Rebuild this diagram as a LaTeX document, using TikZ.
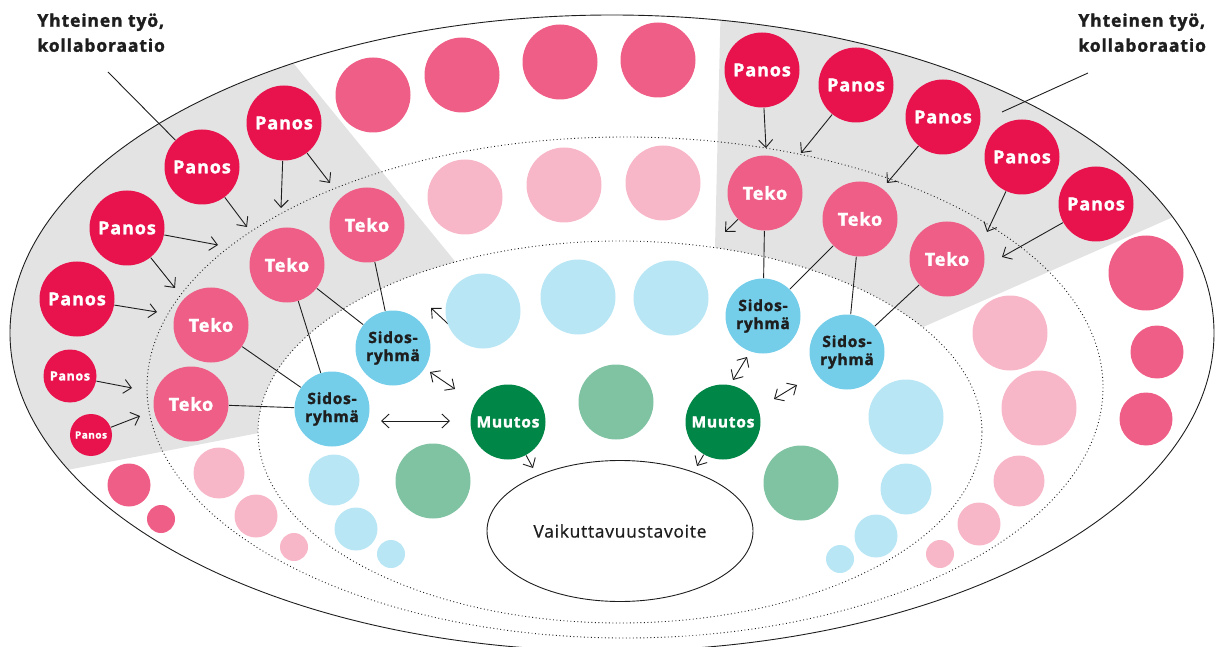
\documentclass[tikz,border=0pt]{standalone}
\usepackage{fontspec}
\setmainfont{Open Sans}
\newfontfamily\lblfont[LetterSpace=5.0, BoldFeatures={FakeBold=1.6}]{Open Sans}
\newfontfamily\goalfont[LetterSpace=4.0, FakeBold=0.7]{Open Sans}
\usetikzlibrary{arrows.meta,shapes.geometric}

\definecolor{cPanos}{HTML}{E8124C}
\definecolor{cTeko}{HTML}{EF5E86}
\definecolor{cRose}{HTML}{F8B7C8}
\definecolor{cSido}{HTML}{74CDE9}
\definecolor{cSky}{HTML}{B8E6F5}
\definecolor{cMuutos}{HTML}{008646}
\definecolor{cMint}{HTML}{80C3A3}
\definecolor{cBand}{HTML}{E3E3E3}
\definecolor{cInk}{HTML}{1E1E1E}

\begin{document}
\begin{tikzpicture}[
    x=1pt, y=-1pt,
    >={Straight Barb[length=7.5pt,width=14pt]},
    line width=0.9pt,
    ball/.style={circle, inner sep=0pt, minimum size=75pt},
    panos/.style={ball, fill=cPanos, text=white,
      font=\lblfont\bfseries\fontsize{18}{20}\selectfont},
    teko/.style={ball, fill=cTeko, text=white,
      font=\lblfont\bfseries\fontsize{18}{20}\selectfont},
    sido/.style={ball, fill=cSido, text=cInk, align=center,
      font=\lblfont\bfseries\fontsize{15.5}{18}\selectfont},
    muutos/.style={ball, fill=cMuutos, text=white,
      font=\lblfont\bfseries\fontsize{15.5}{18}\selectfont},
    deco/.style={circle, inner sep=0pt, minimum size=#1},
    link/.style={draw=cInk},
    arr/.style={->, draw=cInk},
    dbl/.style={<->, draw=cInk},
    ring/.style={draw=cInk, line width=0.9pt, dash pattern=on 0.9pt off 2.6pt},
    note/.style={align=left, text=cInk, inner sep=0pt, anchor=north west,
      font=\lblfont\bfseries\fontsize{17.5}{25}\selectfont},
  ]
  \useasboundingbox (0,0) rectangle (1216,647);

  % Grey sectors (collaboration)
  \begin{scope}
    \clip (0,483) -- (300,425) -- (480,292) -- (250,10) -- (0,0) -- cycle;
    \fill[cBand, even odd rule] (612,333) ellipse [x radius=602, y radius=318]
      (620,432) ellipse [x radius=362, y radius=191];
  \end{scope}
  \begin{scope}
    \clip (721,-5) -- (714,290) -- (880,346) -- (1230,192) -- (1230,-5) -- cycle;
    \fill[cBand, even odd rule] (612,333) ellipse [x radius=602, y radius=318]
      (620,432) ellipse [x radius=362, y radius=191];
  \end{scope}

  % Rings
  \draw[cInk] (612,333) ellipse [x radius=602, y radius=318];
  \draw[ring] (625,387.5) ellipse [x radius=478, y radius=250.5];
  \draw[ring] (620,432) ellipse [x radius=362, y radius=191];

  % Arrow partly hidden under a circle
  \coordinate (dC1) at (431,308);
  \coordinate (dC2) at (460,335);
  \draw[arr] (dC2) -- (dC1);

  % Background circles
  \foreach \x/\y/\d [count=\i] in {373/95/75, 462/75/75, 560/62/75, 658/60/75,
      1146/273/75, 1157/352/53, 1146/419/53, 129/485/43, 161/519/28}
    \node[deco=\d pt, fill=cTeko] (outer\i) at (\x,\y) {};
  \foreach \x/\y/\d [count=\i] in {465/197/75, 564/185/75, 663/183/75,
      1010/333/75, 1039/408/75, 1019/481/51, 979/524/43, 940/554/28,
      219/473/51, 256/516/43, 294/547/28}
    \node[deco=\d pt, fill=cRose] (mid\i) at (\x,\y) {};
  \foreach \x/\y/\d [count=\i] in {483/311/75, 578/297/75, 671/298/75,
      906/417/75, 906/489/51, 876/536/43, 840/559/28,
      334/480/51, 356/529/43, 391/554/28}
    \node[deco=\d pt, fill=cSky] (inner\i) at (\x,\y) {};
  \foreach \x/\y [count=\i] in {616/402, 433/481, 801/483}
    \node[deco=75pt, fill=cMint] (mint\i) at (\x,\y) {};

  % Left sector
  \node[panos] (pL1) at (202,167) {Panos};
  \node[panos] (pL2) at (284,123) {Panos};
  \node[panos] (pL3) at (127,228) {Panos};
  \node[panos] (pL4) at (77,299) {Panos};
  \node[panos, minimum size=53pt, font=\lblfont\bfseries\fontsize{12.5}{14}\selectfont]
    (pL5) at (70,376) {Panos};
  \node[panos, minimum size=42pt, font=\lblfont\bfseries\fontsize{10}{12}\selectfont]
    (pL6) at (91,435) {Panos};
  \node[teko] (tL1) at (367,225) {Teko};
  \node[teko] (tL2) at (287,265) {Teko};
  \node[teko] (tL3) at (211,325) {Teko};
  \node[teko] (tL4) at (191,404) {Teko};
  \node[sido] (sL1) at (393,348) {Sidos-\\ryhmä};
  \node[sido] (sL2) at (332,409) {Sidos-\\ryhmä};

  % Right sector
  \node[panos] (pR1) at (762,70) {Panos};
  \node[panos] (pR2) at (856,85) {Panos};
  \node[panos] (pR3) at (943,117) {Panos};
  \node[panos] (pR4) at (1022,157) {Panos};
  \node[panos] (pR5) at (1096,204) {Panos};
  \node[teko] (tR1) at (765,193) {Teko};
  \node[teko] (tR2) at (860,219) {Teko};
  \node[teko] (tR3) at (947,259) {Teko};
  \node[sido] (sR1) at (763,316) {Sidos-\\ryhmä};
  \node[sido] (sR2) at (847,352) {Sidos-\\ryhmä};

  % Changes and goal
  \node[muutos] (mL) at (508,422) {Muutos};
  \node[muutos] (mR) at (723,422) {Muutos};
  \node[ellipse, draw=cInk, minimum width=266pt, minimum height=141pt,
    font=\goalfont\fontsize{17.5}{20}\selectfont, text=cInk] (goal) at (620,531)
    {Vaikuttavuustavoite};

  % Arrow tips
  \foreach \n/\x/\y in {aL1/247/227, aL2/281/208, aL3/330/183, aL4/218/245,
      aL5/175/288, aL6/157/312, aL7/132/388, aL8/140/416,
      aR1/766/148, aR2/801/153, aR3/887/183, aR4/987/232, aR5/1002/257,
      aR6/725/232, aM1/533/468, aM2/697/466}
    \coordinate (\n) at (\x,\y);
  \foreach \s/\t in {pL1/aL1, pL2/aL2, pL2/aL3, pL3/aL4, pL3/aL5, pL4/aL6,
      pL5/aL7, pL6/aL8, pR1/aR1, pR2/aR2, pR3/aR3, pR4/aR4, pR5/aR5,
      tR1/aR6, mL/aM1, mR/aM2}
    \draw[arr] (\s) -- (\t);

  % Teko to Sidosryhma
  \foreach \s/\t in {tL1/sL1, tL2/sL1, tL2/sL2, tL3/sL2, tL4/sL2,
      tR1/sR1, tR2/sR1, tR2/sR2, tR3/sR2}
    \draw[link] (\s) -- (\t);

  % Two-way arrows
  \foreach \n/\x/\y in {dA1/381/421, dA2/450/421, dB1/430/372, dB2/455/389,
      dD1/747/357, dD2/733/380, dE1/797/385, dE2/774/399}
    \coordinate (\n) at (\x,\y);
  \draw[dbl] (dA1) -- (dA2);
  \draw[dbl] (dB1) -- (dB2);
  \draw[dbl] (dD1) -- (dD2);
  \draw[dbl] (dE1) -- (dE2);

  % Labels
  \node[note] (noteL) at (37,13) {Yhteinen työ,\\kollaboraatio};
  \node[note] (noteR) at (1078,13) {Yhteinen työ,\\kollaboraatio};
  \coordinate (nL) at (108,72);
  \coordinate (nR1) at (1088,73);
  \coordinate (nR2) at (1002,112);
  \draw[link] (nL) -- (pL1);
  \draw[link] (nR1) -- (nR2);
\end{tikzpicture}
\end{document}
